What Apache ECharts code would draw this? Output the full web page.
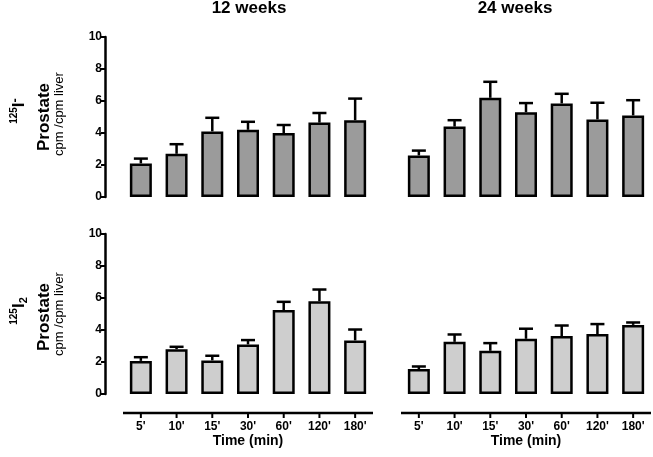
<!DOCTYPE html>
<html>
<head>
<meta charset="utf-8">
<script src="https://cdn.jsdelivr.net/npm/echarts@6/dist/echarts.min.js"></script>
<style>
html,body{margin:0;padding:0;background:#fff;}
#chart{width:653px;height:457px;}
</style>
</head>
<body>
<div id="chart"></div>
<script>
// ---- data ----
const categories = ["5'", "10'", "15'", "30'", "60'", "120'", "180'"];
const yTicks = [0, 2, 4, 6, 8, 10];
const panelTitles = ["12 weeks", "24 weeks"];
const xAxisTitle = "Time (min)";

// 125I- (top row)
const iodide12Mean = [2.1, 2.7, 4.1, 4.2, 4.0, 4.65, 4.8];
const iodide12Sem  = [0.3, 0.6, 0.85, 0.5, 0.5, 0.6, 1.35];
const iodide24Mean = [2.6, 4.4, 6.2, 5.3, 5.85, 4.85, 5.1];
const iodide24Sem  = [0.3, 0.4, 1.0, 0.57, 0.6, 1.04, 0.95];
// 125I2 (bottom row)
const iodine12Mean = [2.07, 2.8, 2.1, 3.1, 5.25, 5.8, 3.35];
const iodine12Sem  = [0.23, 0.15, 0.29, 0.27, 0.51, 0.73, 0.68];
const iodine24Mean = [1.56, 3.26, 2.7, 3.45, 3.62, 3.75, 4.32];
const iodine24Sem  = [0.16, 0.46, 0.48, 0.63, 0.66, 0.62, 0.15];

// ---- chart ----
const FONT = "'Liberation Sans', Arial, Helvetica, sans-serif";
const chart = echarts.init(document.getElementById('chart'), null, {renderer: 'canvas'});

const panels = [
  {mean: iodide12Mean, sem: iodide12Sem, color: '#9b9b9b', left: 123, top: 37, showY: true},
  {mean: iodide24Mean, sem: iodide24Sem, color: '#9b9b9b', left: 401, top: 37, showY: false},
  {mean: iodine12Mean, sem: iodine12Sem, color: '#cecece', left: 123, top: 234, showY: true},
  {mean: iodine24Mean, sem: iodine24Sem, color: '#cecece', left: 401, top: 234, showY: false}
];

const grid = [], xAxis = [], yAxis = [], series = [];
panels.forEach((p, i) => {
  grid.push({left: p.left, top: p.top, width: 250, height: 160});
  xAxis.push({type: 'category', gridIndex: i, data: categories, show: false});
  yAxis.push({
    type: 'value', gridIndex: i, min: yTicks[0], max: yTicks[yTicks.length - 1],
    interval: yTicks[1] - yTicks[0], show: p.showY, offset: 18,
    axisLine: {show: true, onZero: false, lineStyle: {color: '#000', width: 2.5}},
    axisTick: {show: true, length: 4, lineStyle: {color: '#000', width: 2}},
    axisLabel: {color: '#000', fontFamily: FONT, fontWeight: 'bold', fontSize: 12, margin: 3},
    splitLine: {show: false}
  });
  series.push({
    type: 'bar', xAxisIndex: i, yAxisIndex: i, data: p.mean, barWidth: 22,
    itemStyle: {color: p.color, borderColor: '#000', borderWidth: 2.5},
    silent: true, animation: false
  });
  series.push({
    type: 'custom', xAxisIndex: i, yAxisIndex: i, z: 3, animation: false, silent: true,
    data: p.mean.map((m, k) => [k, m, p.sem[k]]),
    encode: {x: 0, y: 1},
    renderItem: function (params, api) {
      const k = api.value(0), m = api.value(1), s = api.value(2);
      const p0 = api.coord([k, m]);
      const p1 = api.coord([k, m + s]);
      return {
        type: 'group',
        children: [
          {type: 'line', shape: {x1: p0[0], y1: p0[1], x2: p1[0], y2: p1[1]},
           style: {stroke: '#000', lineWidth: 2.5}},
          {type: 'line', shape: {x1: p1[0] - 7, y1: p1[1], x2: p1[0] + 7, y2: p1[1]},
           style: {stroke: '#000', lineWidth: 2.5}}
        ]
      };
    }
  });
});

// thin grids carrying the detached time axes under the bottom row
[123, 401].forEach((left, j) => {
  const gi = 4 + j;
  grid.push({left: left, top: 403, width: 250, height: 10});
  xAxis.push({
    type: 'category', gridIndex: gi, data: categories, position: 'bottom',
    axisLine: {show: false}, axisTick: {show: false},
    axisLabel: {color: '#000', fontFamily: FONT, fontWeight: 'bold', fontSize: 12, margin: 8},
    name: xAxisTitle, nameLocation: 'middle', nameGap: 21,
    nameTextStyle: {color: '#000', fontFamily: FONT, fontWeight: 'bold', fontSize: 14}
  });
  yAxis.push({type: 'value', gridIndex: gi, min: 0, max: 1, show: false, splitLine: {show: false}});
  // axis baseline (one continuous line) and ticks, laid out through this axis' category scale
  series.push({
    type: 'custom', xAxisIndex: gi, yAxisIndex: gi, clip: false, silent: true, animation: false,
    data: categories.map((c, k) => [k, 0]),
    encode: {x: 0, y: 1},
    renderItem: function (params, api) {
      const k = api.value(0);
      const pt = api.coord([k, 0]);
      const bw = api.size([1, 0])[0];
      const children = [
        {type: 'line', shape: {x1: pt[0], y1: pt[1], x2: pt[0], y2: pt[1] + 5},
         style: {stroke: '#000', lineWidth: 2}}
      ];
      if (k === 0) {
        const last = api.coord([categories.length - 1, 0]);
        children.push({type: 'line',
          shape: {x1: pt[0] - bw / 2, y1: pt[1], x2: last[0] + bw / 2, y2: pt[1]},
          style: {stroke: '#000', lineWidth: 2.5, lineCap: 'butt'}});
      }
      return {type: 'group', children: children};
    }
  });
});

function rowLabels(cy, isoText, rich) {
  return [
    {type: 'text', x: 19, y: cy - 5, rotation: Math.PI / 2,
     style: {text: isoText, rich: rich, align: 'center', verticalAlign: 'middle', fill: '#000', fontFamily: FONT}},
    {type: 'text', x: 44, y: cy + 1, rotation: Math.PI / 2,
     style: {text: 'Prostate', fontFamily: FONT, fontWeight: 'bold', fontSize: 17, fill: '#000', align: 'center', verticalAlign: 'middle'}},
    {type: 'text', x: 59, y: cy - 2, rotation: Math.PI / 2,
     style: {text: 'cpm /cpm liver', fontFamily: FONT, fontSize: 13, fill: '#000', align: 'center', verticalAlign: 'middle'}}
  ];
}
const richIso = {
  a: {fontFamily: FONT, fontWeight: 'bold', fontSize: 10, lineHeight: 10, verticalAlign: 'top', fill: '#000'},
  b: {fontFamily: FONT, fontWeight: 'bold', fontSize: 17, lineHeight: 20, verticalAlign: 'middle', fill: '#000'},
  c: {fontFamily: FONT, fontWeight: 'bold', fontSize: 13, lineHeight: 6, verticalAlign: 'top', fill: '#000'},
  d: {fontFamily: FONT, fontWeight: 'bold', fontSize: 11, lineHeight: 14, verticalAlign: 'bottom', fill: '#000'}
};

const graphic = [
  {type: 'text', x: 249, y: 8, style: {text: panelTitles[0], fontFamily: FONT, fontWeight: 'bold', fontSize: 17, fill: '#000', align: 'center', verticalAlign: 'middle'}},
  {type: 'text', x: 515, y: 8, style: {text: panelTitles[1], fontFamily: FONT, fontWeight: 'bold', fontSize: 17, fill: '#000', align: 'center', verticalAlign: 'middle'}}
].concat(
  rowLabels(116, '{a|125}{b|I}{c|-}', richIso),
  rowLabels(316, '{a|125}{b|I}{d|2}', richIso)
);

chart.setOption({
  backgroundColor: '#fff',
  animation: false,
  grid: grid, xAxis: xAxis, yAxis: yAxis, series: series,
  graphic: graphic
});
</script>
</body>
</html>
